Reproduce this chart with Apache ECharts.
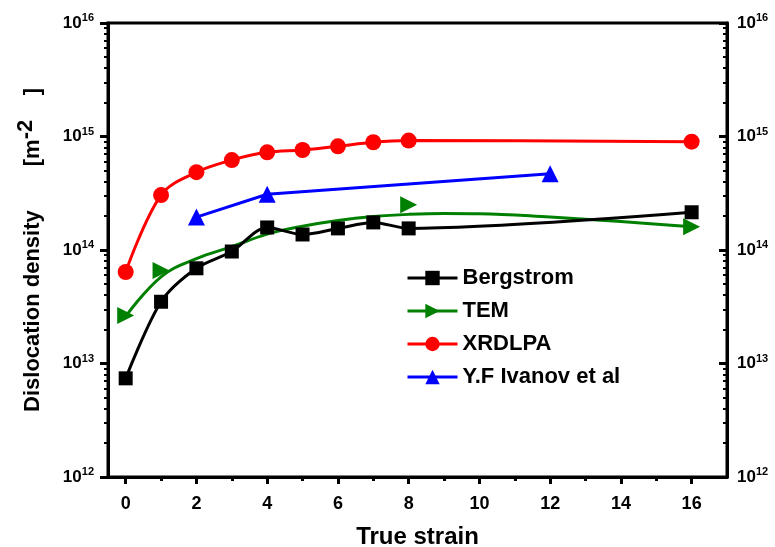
<!DOCTYPE html>
<html>
<head>
<meta charset="utf-8">
<script src="https://cdn.jsdelivr.net/npm/echarts@6/dist/echarts.min.js"></script>
<style>
  html, body { margin: 0; padding: 0; background: #fff; }
  #chart { width: 775px; height: 547px; }
</style>
</head>
<body>
<div id="chart"></div>
<script>
// data
const bergStrain = [0, 1, 2, 3, 4, 5, 6, 7, 8, 16];
const bergRho = [7.4e12, 3.5e13, 6.9e13, 9.7e13, 1.58e14, 1.37e14, 1.55e14, 1.75e14, 1.55e14, 2.15e14];

const temStrain = [0, 1, 8, 16];
const temRho = [2.65e13, 6.6e13, 2.5e14, 1.6e14];
// fitted TEM curve as drawn in the picture
const temFitStrain = [0, 1, 2, 3, 4, 5, 6, 7, 8, 9, 10, 12, 14, 16];
const temFitRho = [2.6e13, 5.8e13, 8.4e13, 1.07e14, 1.38e14, 1.62e14, 1.82e14, 1.97e14, 2.06e14, 2.1e14, 2.09e14, 1.95e14, 1.78e14, 1.6e14];

const xrdStrain = [0, 1, 2, 3, 4, 5, 6, 7, 8, 16];
const xrdRho = [6.4e13, 3.05e14, 4.85e14, 6.2e14, 7.25e14, 7.6e14, 8.2e14, 8.9e14, 9.2e14, 9.0e14];

const ivaStrain = [2, 4, 12];
const ivaRho = [1.95e14, 3.1e14, 4.7e14];

const xMajor = [0, 2, 4, 6, 8, 10, 12, 14, 16];
const xMinor = [1, 3, 5, 7, 9, 11, 13, 15];
const yMinor = [];
for (let e = 12; e < 16; e++) {
  for (let k = 2; k <= 9; k++) yMinor.push(k * Math.pow(10, e));
}

const pairs = (xs, ys) => xs.map((x, i) => [x, ys[i]]);

const font = 'Liberation Sans, Arial, sans-serif';
const lineW = 3;

const powLabel = {
  formatter: v => '{b|10}{s|' + Math.round(Math.log10(v)) + '}',
  rich: {
    b: { fontSize: 17, fontWeight: 'bold', fontFamily: font, color: '#000' },
    s: { fontSize: 11, fontWeight: 'bold', fontFamily: font, color: '#000', padding: [0, 0, 10, 0] }
  }
};

const chart = echarts.init(document.getElementById('chart'));
chart.setOption({
  animation: false,
  grid: {
    left: 108, right: 48, top: 23, bottom: 70, outerBoundsMode: 'none',
    show: true, borderColor: '#000', borderWidth: lineW
  },
  legend: {
    left: 401, top: 262, orient: 'vertical',
    itemWidth: 50, itemHeight: 18, itemGap: 11,
    lineStyle: { width: lineW },
    textStyle: { fontSize: 22, fontWeight: 'bold', fontFamily: font, color: '#000' },
    data: [
      'Bergstrom',
      { name: 'TEM', lineStyle: { opacity: 1, width: lineW, color: '#008000' } },
      'XRDLPA',
      'Y.F Ivanov et al'
    ]
  },
  xAxis: [
    {
      type: 'value', min: -0.5, max: 17,
      name: 'True strain', nameLocation: 'middle', nameGap: 48,
      nameTextStyle: { fontSize: 24, fontWeight: 'bold', fontFamily: font, color: '#000' },
      axisLine: { onZero: false, lineStyle: { color: '#000', width: lineW } },
      axisTick: { customValues: xMajor, length: 7, lineStyle: { width: lineW, color: '#000' } },
      axisLabel: { customValues: xMajor, margin: 18, fontSize: 18, fontWeight: 'bold', fontFamily: font, color: '#000' },
      splitLine: { show: false }
    },
    {
      type: 'value', min: -0.5, max: 17, position: 'bottom',
      axisLine: { show: false, onZero: false },
      axisTick: { customValues: xMinor, length: 4, lineStyle: { width: lineW, color: '#000' } },
      axisLabel: { show: false },
      splitLine: { show: false }
    }
  ],
  yAxis: [
    {
      type: 'log', logBase: 10, min: 1e12, max: 1e16, position: 'left',
      name: '{a|Dislocation density}{g| }{a|[m}{s|-2}{a|    ]}',
      nameLocation: 'middle', nameGap: 57,
      nameTextStyle: {
        rich: {
          a: { fontSize: 22, fontWeight: 'bold', fontFamily: font, color: '#000' },
          g: { width: 44 },
          s: { fontSize: 22, fontWeight: 'bold', fontFamily: font, color: '#000', padding: [0, 0, 14, 0] }
        }
      },
      axisLine: { onZero: false, lineStyle: { color: '#000', width: lineW } },
      axisTick: { length: 8, lineStyle: { width: lineW, color: '#000' } },
      axisLabel: Object.assign({ margin: 14 }, powLabel),
      splitLine: { show: false }
    },
    {
      type: 'log', logBase: 10, min: 1e12, max: 1e16, position: 'left',
      axisLine: { show: false, onZero: false },
      axisTick: { customValues: yMinor, length: 4, lineStyle: { width: 2, color: '#000' } },
      axisLabel: { show: false },
      splitLine: { show: false }
    },
    {
      type: 'log', logBase: 10, min: 1e12, max: 1e16, position: 'right',
      axisLine: { onZero: false, lineStyle: { color: '#000', width: lineW } },
      axisTick: { inside: true, length: 8, lineStyle: { width: lineW, color: '#000' } },
      axisLabel: Object.assign({ margin: 10 }, powLabel),
      splitLine: { show: false }
    },
    {
      type: 'log', logBase: 10, min: 1e12, max: 1e16, position: 'right',
      axisLine: { show: false, onZero: false },
      axisTick: { inside: true, customValues: yMinor, length: 4, lineStyle: { width: 2, color: '#000' } },
      axisLabel: { show: false },
      splitLine: { show: false }
    }
  ],
  series: [
    {
      name: 'TEM fit', type: 'line', smooth: 0.4, symbol: 'none',
      lineStyle: { color: '#008000', width: lineW },
      data: pairs(temFitStrain, temFitRho)
    },
    {
      name: 'TEM', type: 'line', symbol: 'triangle', symbolRotate: -90, symbolSize: 17,
      itemStyle: { color: '#008000' },
      lineStyle: { opacity: 0, color: '#008000' },
      data: pairs(temStrain, temRho)
    },
    {
      name: 'Bergstrom', type: 'line', smooth: 0.3, symbol: 'rect', symbolSize: 14,
      itemStyle: { color: '#000' },
      lineStyle: { color: '#000', width: lineW },
      data: pairs(bergStrain, bergRho)
    },
    {
      name: 'XRDLPA', type: 'line', smooth: 0.35, symbol: 'circle', symbolSize: 16,
      itemStyle: { color: '#ff0000' },
      lineStyle: { color: '#ff0000', width: lineW },
      data: pairs(xrdStrain, xrdRho)
    },
    {
      name: 'Y.F Ivanov et al', type: 'line', symbol: 'triangle', symbolSize: 17,
      itemStyle: { color: '#0000ff' },
      lineStyle: { color: '#0000ff', width: lineW },
      data: pairs(ivaStrain, ivaRho)
    }
  ]
});
</script>
</body>
</html>
